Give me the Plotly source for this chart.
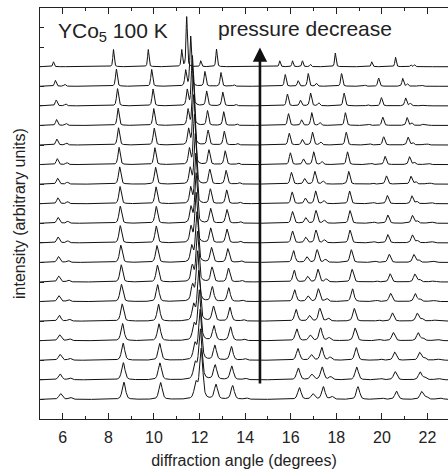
import numpy as np
import plotly.graph_objects as go

# reflections of the highest-pressure pattern (bottom curve): angle (deg) and height (offset units)
peak_pos = [5.90, 6.33, 8.68, 10.29, 11.84, 12.07, 12.72, 13.45, 14.04, 16.38, 16.97,
            17.43, 17.80, 18.95, 20.02, 20.64, 21.74, 21.95, 22.45, 22.62]
peak_int = [0.30, 0.10, 0.88, 0.86, 0.80, 2.55, 0.75, 0.70, 0.08, 0.60, 0.28,
            0.65, 0.15, 0.65, 0.06, 0.42, 0.40, 0.12, 0.05, 0.05]
# the top (lowest pressure) pattern has different relative intensities
peak_int_top = [0.25, 0.04, 0.88, 0.88, 0.85, 2.55, 0.30, 0.90, 0.00, 0.30, 0.30,
                0.30, 0.12, 0.70, 0.00, 0.25, 0.48, 0.00, 0.10, 0.10]

# position of the ~10 deg reflection in each pattern, top to bottom
ref_pos = [9.75, 9.90, 9.96, 9.99, 10.01, 10.04, 10.07, 10.09, 10.10,
           10.10, 10.13, 10.15, 10.16, 10.20, 10.22, 10.25, 10.26, 10.29]
# peak width (deg) of each pattern, top to bottom
fwhm = [0.07, 0.09, 0.10, 0.10, 0.11, 0.11, 0.12, 0.12, 0.13,
        0.13, 0.14, 0.14, 0.15, 0.15, 0.16, 0.16, 0.17, 0.17]

x = np.arange(5.0, 23.0, 0.004)
n = len(ref_pos)

fig = go.Figure()
for i in range(n):
    scale = ref_pos[i] / ref_pos[-1]
    heights = peak_int_top if i == 0 else peak_int
    w = fwhm[i]
    y = np.zeros_like(x)
    for p, h in zip(peak_pos, heights):
        c = p * scale
        d = (x - c) / (w / 2)
        lor = 1 / (1 + d ** 2)
        gau = np.exp(-np.log(2) * d ** 2)
        y += h * (0.5 * lor + 0.5 * gau)
    fig.add_trace(go.Scatter(x=x, y=y + (n - i), mode="lines",
                             line=dict(color="#111111", width=1), hoverinfo="skip"))

font = "Liberation Sans, Arial, sans-serif"
fig.update_layout(
    width=448, height=474,
    margin=dict(l=40, r=0, t=8, b=55),
    paper_bgcolor="white", plot_bgcolor="white",
    showlegend=False,
    font=dict(family=font, color="#222222"),
    xaxis=dict(range=[5, 22.9], tick0=6, dtick=2, ticks="inside", ticklen=6,
               tickcolor="#222", showline=True, linecolor="#222", linewidth=1,
               mirror="ticks", showgrid=False, zeroline=False,
               tickfont=dict(size=16, family=font), ticklabelstandoff=4,
               minor=dict(tick0=5, dtick=1, ticks="inside", ticklen=3, tickcolor="#222"),
               title=dict(text="diffraction angle (degrees)", font=dict(size=16), standoff=9)),
    yaxis=dict(range=[0, 21], dtick=1, ticks="inside", ticklen=4, tickcolor="#222",
               showticklabels=False, showline=True, linecolor="#222", linewidth=1,
               showgrid=False, zeroline=False),
    annotations=[
        dict(text="intensity (arbitrary units)", textangle=-90, xref="paper", yref="paper",
             x=0, y=0.5, xanchor="right", xshift=-10, showarrow=False, font=dict(size=16)),
        dict(text="YCo<sub>5</sub> 100 K", xref="x", yref="paper", x=5.7, y=0.942,
             xanchor="left", yanchor="middle", showarrow=False, font=dict(size=21)),
        dict(text="pressure decrease", xref="x", yref="paper", x=12.7, y=0.951,
             xanchor="left", yanchor="middle", showarrow=False, font=dict(size=21)),
        dict(x=14.65, y=18.98, ax=14.65, ay=1.74, xref="x", yref="y", axref="x", ayref="y",
             text="", showarrow=True, arrowhead=2, arrowsize=1.1, arrowwidth=2.6,
             arrowcolor="#111111", standoff=0, startstandoff=0),
    ],
)

fig.write_html("out.html", config={"displayModeBar": False},
               post_script="document.body.style.margin='0';")
